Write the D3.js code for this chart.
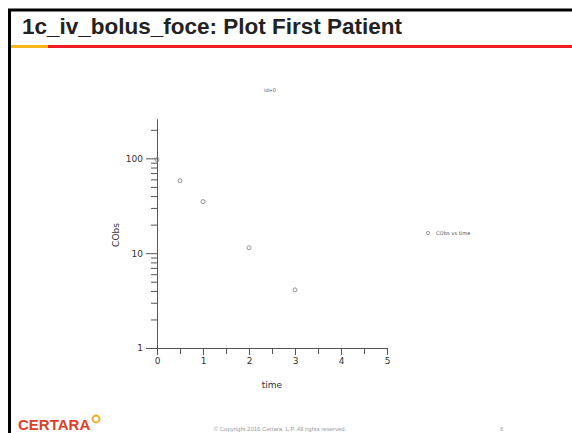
<!DOCTYPE html>
<html>
<head>
<meta charset="utf-8">
<script src="https://cdn.jsdelivr.net/npm/d3@7"></script>
<style>
  body { margin: 0; background: #fff; }
  svg { display: block; }
</style>
</head>
<body>
<div id="chart"></div>
<script>
// data
var times = [0, 0.5, 1, 2, 3];
var cobs = [97, 58, 35, 11.4, 4.1];
var xTicks = [0, 1, 2, 3, 4, 5];
var xMinorTicks = [0.5, 1.5, 2.5, 3.5, 4.5];
var yTicks = [1, 10, 100];
var yMinorTicks = [2, 3, 4, 5, 6, 7, 8, 9, 20, 30, 40, 50, 60, 70, 80, 90, 200];

var svgWidth = 572;
var svgHeight = 433;

var svg = d3.select("#chart")
  .append("svg")
  .attr("width", svgWidth)
  .attr("height", svgHeight);

// slide frame
svg.append("line")
  .attr("x1", 8).attr("x2", svgWidth)
  .attr("y1", 10).attr("y2", 10)
  .attr("stroke", "#000").attr("stroke-width", 3);
svg.append("line")
  .attr("x1", 9.5).attr("x2", 9.5)
  .attr("y1", 9).attr("y2", svgHeight)
  .attr("stroke", "#000").attr("stroke-width", 3);

svg.append("text")
  .attr("x", 22)
  .attr("y", 34)
  .attr("font-family", "Liberation Sans, Arial, sans-serif")
  .attr("font-weight", "bold")
  .attr("font-size", "22.5px")
  .attr("fill", "#222")
  .text("1c_iv_bolus_foce: Plot First Patient");

svg.append("rect").attr("x", 11).attr("y", 45).attr("width", 37).attr("height", 3).attr("fill", "#f9b51c");
svg.append("rect").attr("x", 48).attr("y", 45).attr("width", svgWidth - 48).attr("height", 3).attr("fill", "#ee1c25");

// scales
var x = d3.scaleLinear().domain([0, 5]).range([157, 387]);
var y = d3.scaleLog().domain([1, 260]).range([348, 119]);

var axisColor = "#555";
var tickFont = "DejaVu Sans, Verdana, sans-serif";

// y axis
var yMinor = svg.append("g")
  .attr("transform", "translate(157,0)")
  .call(d3.axisLeft(y).tickValues(yMinorTicks).tickSize(6).tickSizeOuter(0).tickFormat(""));
var yAxis = svg.append("g")
  .attr("transform", "translate(157,0)")
  .call(d3.axisLeft(y).tickValues(yTicks).tickSize(11).tickSizeOuter(0).tickPadding(3).tickFormat(d3.format("d")));

// x axis
var xMinor = svg.append("g")
  .attr("transform", "translate(0,348)")
  .call(d3.axisBottom(x).tickValues(xMinorTicks).tickSize(6).tickSizeOuter(0).tickFormat(""));
var xAxis = svg.append("g")
  .attr("transform", "translate(0,348)")
  .call(d3.axisBottom(x).tickValues(xTicks).tickSize(7).tickSizeOuter(0).tickPadding(3).tickFormat(d3.format("d")));

svg.selectAll(".domain, .tick line").attr("stroke", axisColor);
svg.selectAll(".tick text")
  .attr("font-family", tickFont)
  .attr("font-size", "9px")
  .attr("fill", "#333");

// axis labels
svg.append("text")
  .attr("x", 272).attr("y", 388)
  .attr("text-anchor", "middle")
  .attr("font-family", tickFont).attr("font-size", "9px").attr("fill", "#333")
  .text("time");

svg.append("text")
  .attr("transform", "translate(119,235) rotate(-90)")
  .attr("text-anchor", "middle")
  .attr("font-family", tickFont).attr("font-size", "9px").attr("fill", "#333")
  .text("CObs");

// panel title
svg.append("text")
  .attr("x", 270).attr("y", 92)
  .attr("text-anchor", "middle")
  .attr("font-family", tickFont).attr("font-size", "5px").attr("fill", "#555")
  .text("id=0");

// points
svg.append("g").selectAll("circle")
  .data(times)
  .enter()
  .append("circle")
  .attr("cx", (d, i) => x(d))
  .attr("cy", (d, i) => y(cobs[i]))
  .attr("r", 2)
  .attr("fill", "none")
  .attr("stroke", "#777")
  .attr("stroke-width", 0.8);

// legend
svg.append("circle")
  .attr("cx", 428).attr("cy", 233).attr("r", 1.6)
  .attr("fill", "none").attr("stroke", "#777").attr("stroke-width", 0.7);
svg.append("text")
  .attr("x", 436).attr("y", 235)
  .attr("font-family", tickFont).attr("font-size", "5.2px").attr("fill", "#555")
  .text("CObs vs time");

// footer
svg.append("text")
  .attr("x", 18).attr("y", 430)
  .attr("font-family", "Liberation Sans, Arial, sans-serif")
  .attr("font-weight", "bold")
  .attr("font-size", "15px")
  .attr("fill", "#d9412a")
  .text("CERTARA");
svg.append("circle")
  .attr("cx", 96).attr("cy", 419).attr("r", 3.5)
  .attr("fill", "none").attr("stroke", "#f5a623").attr("stroke-width", 1.8);

svg.append("text")
  .attr("x", 280).attr("y", 431)
  .attr("text-anchor", "middle")
  .attr("font-family", "Liberation Sans, Arial, sans-serif")
  .attr("font-size", "6px").attr("fill", "#999")
  .text("\u00a9 Copyright 2016 Certara, L.P.  All rights reserved.");
svg.append("text")
  .attr("x", 500).attr("y", 431)
  .attr("font-family", "Liberation Sans, Arial, sans-serif")
  .attr("font-size", "6px").attr("fill", "#999")
  .text("6");
</script>
</body>
</html>
